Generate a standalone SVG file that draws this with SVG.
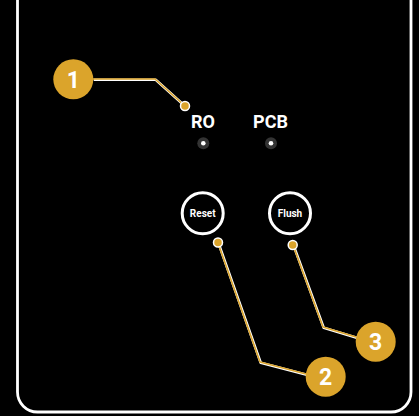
<svg xmlns="http://www.w3.org/2000/svg" width="419" height="416" viewBox="0 0 419 416">
<style>
.lbl{font-family:Roboto,"Liberation Sans",sans-serif;font-weight:bold;fill:#fff;text-anchor:middle}
.badge{fill:#DBA42B}
.halo{fill:none;stroke:#fff;stroke-width:2.6;stroke-linejoin:round}
.lead{fill:none;stroke:#DBA42B;stroke-width:1.6;stroke-linejoin:round}
.tip{fill:#DBA42B;stroke:#fff;stroke-width:1.5}
.btn{fill:#000;stroke:#fff;stroke-width:3}
</style>
<rect width="419" height="416" fill="#000"/>
<path d="M17.5,0 V392 A20,20 0 0 0 37.5,412 H391 A20,20 0 0 0 411,392 V0" fill="none" stroke="#fff" stroke-width="2.8"/>
<g id="connectors">
<g transform="translate(0.7,0.8)">
<path class="halo" d="M93,79 H155 L185,106"/>
<path class="halo" d="M218,243 L260,362 L306,374"/>
<path class="halo" d="M293,245 L323,327 L356,337"/>
</g>
<path class="lead" d="M93,79 H155 L185,106"/>
<path class="lead" d="M218,243 L260,362 L306,374"/>
<path class="lead" d="M293,245 L323,327 L356,337"/>
<circle class="tip" cx="185" cy="106" r="4.5"/>
<circle class="tip" cx="218" cy="242.5" r="4.5"/>
<circle class="tip" cx="292.7" cy="245" r="4.5"/>
</g>
<g id="label-ro"><text class="lbl" x="203" y="127.5" font-size="18">RO</text></g>
<g id="label-pcb"><text class="lbl" x="270.5" y="127.5" font-size="18">PCB</text></g>
<g id="led-ro"><circle cx="203.3" cy="143.3" r="6" fill="#333"/><circle cx="203.3" cy="143.3" r="2.3" fill="#fff"/></g>
<g id="led-pcb"><circle cx="271" cy="143.3" r="6" fill="#333"/><circle cx="271" cy="143.3" r="2.3" fill="#fff"/></g>
<g id="btn-reset"><circle class="btn" cx="202.7" cy="213.3" r="20.5"/><text class="lbl" x="202.7" y="216.8" font-size="10">Reset</text></g>
<g id="btn-flush"><circle class="btn" cx="290" cy="213.3" r="20.5"/><text class="lbl" x="290" y="216.8" font-size="10">Flush</text></g>
<g id="badge-1"><circle class="badge" cx="73.3" cy="79.3" r="20"/><text class="lbl" x="73.3" y="87.5" font-size="23">1</text></g>
<g id="badge-2"><circle class="badge" cx="325.7" cy="376.7" r="20"/><text class="lbl" x="325.7" y="384.9" font-size="23">2</text></g>
<g id="badge-3"><circle class="badge" cx="375.7" cy="341.7" r="20"/><text class="lbl" x="375.7" y="349.9" font-size="23">3</text></g>
</svg>
